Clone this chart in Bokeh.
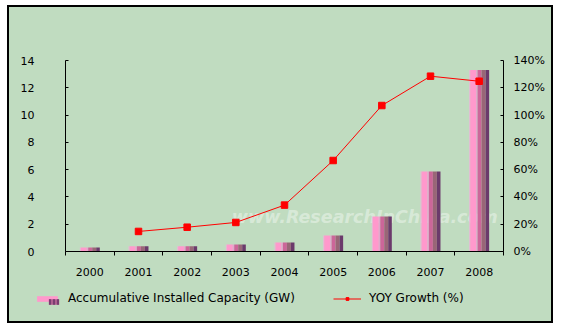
from bokeh.plotting import figure
from bokeh.layouts import column, row
from bokeh.models import (Range1d, LinearAxis, FixedTicker, PrintfTickFormatter,
                          Legend, LegendItem, ColumnDataSource)
from bokeh.core.properties import value
from bokeh.embed import file_html
from bokeh.resources import INLINE

# ---------------- data ----------------
years = ["2000", "2001", "2002", "2003", "2004", "2005", "2006", "2007", "2008"]
capacity_gw = [0.30, 0.38, 0.38, 0.52, 0.66, 1.17, 2.56, 5.87, 13.3]
yoy_growth_pct = [None, 14.7, 17.8, 21.3, 34.0, 66.7, 107.0, 128.5, 124.8]
left_ticks = [0, 2, 4, 6, 8, 10, 12, 14]
right_ticks = [0, 20, 40, 60, 80, 100, 120, 140]
series_labels = ["Accumulative Installed Capacity (GW)", "YOY Growth (%)"]

# ---------------- style ----------------
BG = "#C0DCC0"
FONT = "DejaVu Sans"
stripe_edges = [0.0, 0.05, 0.35, 0.42, 0.62, 0.82, 1.0]
stripe_colors = ["#E8B8D8", "#FF99CC", "#E0A8CC", "#CC6699", "#996677", "#6B3A6B"]
bar_w = 0.41

xs = list(range(len(years)))

p = figure(width=542, height=276, output_backend="svg", toolbar_location=None,
           x_range=Range1d(-0.5, len(years) - 0.5), y_range=Range1d(0, 14),
           x_axis_type=None, y_axis_type=None,
           min_border_left=56, min_border_right=48, min_border_top=53, min_border_bottom=32)
p.border_fill_color = BG
p.background_fill_color = BG
p.outline_line_color = None
p.extra_y_ranges = {"pct": Range1d(0, 140)}

def style_axis(ax):
    ax.axis_line_color = "black"
    ax.major_tick_line_color = "black"
    ax.minor_tick_line_color = "black"
    ax.major_label_text_font = FONT
    ax.major_label_text_font_size = "11px"
    ax.major_label_text_color = "black"

left_axis = LinearAxis(ticker=FixedTicker(ticks=left_ticks, minor_ticks=[]),
                       major_tick_in=3, major_tick_out=0, minor_tick_in=0, minor_tick_out=0,
                       major_label_standoff=31)
style_axis(left_axis)
p.add_layout(left_axis, "left")

right_axis = LinearAxis(y_range_name="pct", ticker=FixedTicker(ticks=right_ticks, minor_ticks=[]),
                        formatter=PrintfTickFormatter(format="%d%%"),
                        major_tick_in=3, major_tick_out=0, minor_tick_in=0, minor_tick_out=0,
                        major_label_standoff=10)
style_axis(right_axis)
p.add_layout(right_axis, "right")

bottom_axis = LinearAxis(ticker=FixedTicker(ticks=xs, minor_ticks=[i - 0.5 for i in range(len(years) + 1)]),
                         major_label_overrides={i: y for i, y in zip(xs, years)},
                         major_tick_in=0, major_tick_out=0, minor_tick_in=0, minor_tick_out=4,
                         major_label_standoff=12)
style_axis(bottom_axis)
p.add_layout(bottom_axis, "below")

# watermark
p.text(x=[5.65], y=[2.55], text=["www.ResearchInChina.com"], text_align="center",
       text_baseline="middle", text_font=value(FONT), text_font_style="bold italic",
       text_font_size="17.5px", text_color="white", text_alpha=0.4)

# striped bars
for (a, b), c in zip(zip(stripe_edges[:-1], stripe_edges[1:]), stripe_colors):
    src = ColumnDataSource(dict(x=[i - bar_w / 2 + (a + b) / 2 * bar_w for i in xs], top=capacity_gw))
    p.vbar(x="x", top="top", bottom=0, width=(b - a) * bar_w, source=src,
           fill_color=c, line_color=None)

# growth line
gx = [x for x, g in zip(xs, yoy_growth_pct) if g is not None]
gy = [g for g in yoy_growth_pct if g is not None]
p.line(gx, gy, y_range_name="pct", line_color="#FF0000", line_width=1)
p.scatter(gx, gy, y_range_name="pct", marker="square", size=6.5,
          fill_color="#FF0000", line_color="#FF0000")

# ---------------- legend strip ----------------
lg = figure(width=542, height=38, output_backend="svg", toolbar_location=None,
            x_range=Range1d(0, 1), y_range=Range1d(0, 1),
            x_axis_type=None, y_axis_type=None, min_border=0)
lg.border_fill_color = BG
lg.background_fill_color = BG
lg.outline_line_color = None
# off-range proxies, used only for the legend swatches
lb = lg.vbar(x=[5], top=[5], bottom=4, width=0.1, fill_color="#FF99CC", line_color=None)
ls = lg.vbar(x=[5], top=[5], bottom=4, width=0.1, fill_color="#B06090", line_color=None,
             hatch_pattern="vertical_line", hatch_color="#663366", hatch_scale=4, hatch_weight=1.5)
ll = lg.line(x=[5, 6], y=[5, 6], line_color="#FF0000", line_width=1)
lp = lg.scatter(x=[5], y=[5], marker="square", size=7, fill_color="#FF0000", line_color="#FF0000")

common = dict(orientation="horizontal", glyph_height=7, label_height=7, label_standoff=8,
              padding=0, margin=0, border_line_color=None, background_fill_alpha=0,
              label_text_font=FONT, label_text_font_size="12px", label_text_color="black")

leg_bar = Legend(items=[LegendItem(label=series_labels[0], renderers=[lb])],
                 location=(25, 16), glyph_width=26, **common)
leg_stripe = Legend(items=[LegendItem(label=" ", renderers=[ls])],
                    location=(38, 16), glyph_width=13, **common)
leg_line = Legend(items=[LegendItem(label=series_labels[1], renderers=[ll, lp])],
                  location=(324, 16), glyph_width=28, **common)
lg.add_layout(leg_bar)
lg.add_layout(leg_stripe)
lg.add_layout(leg_line)

layout = column(p, row(lg), spacing=0,
                styles={"border": "2px solid black", "box-sizing": "content-box",
                        "margin-left": "7px", "margin-top": "5px",
                        "background-color": BG})

open("out.html", "w").write(file_html(layout, INLINE))
